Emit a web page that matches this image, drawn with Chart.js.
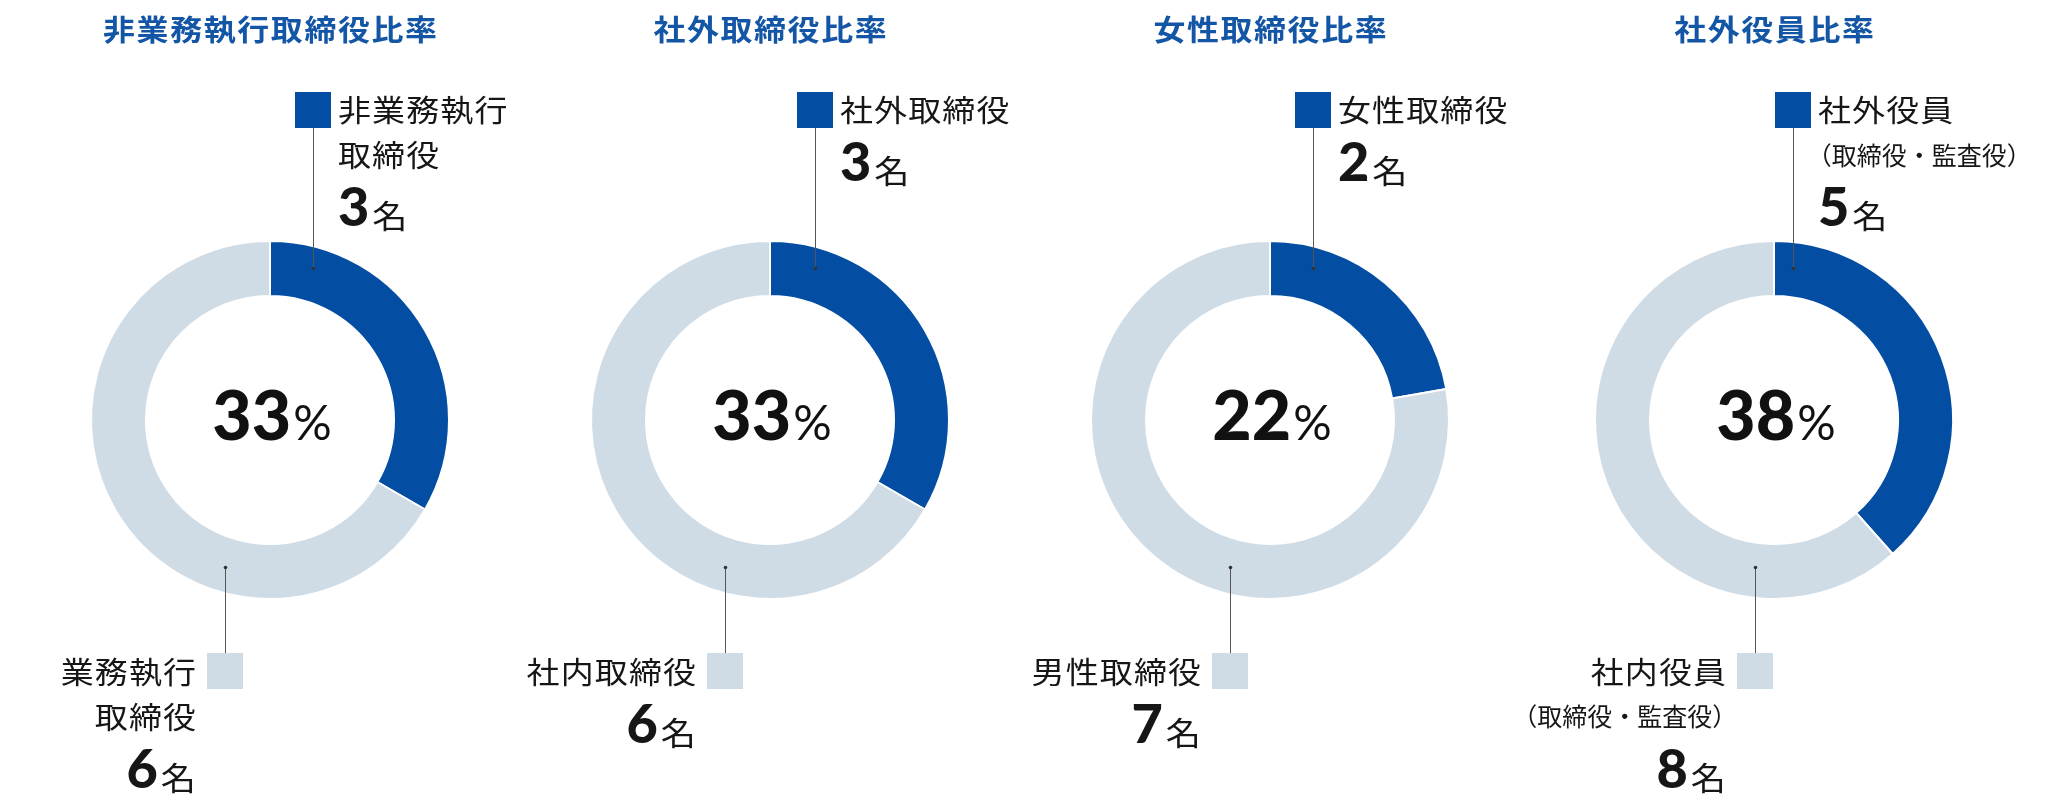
<!DOCTYPE html>
<html lang="ja">
<head>
<meta charset="utf-8">
<title>取締役会の構成</title>
<script src="https://cdn.jsdelivr.net/npm/chart.js@4.4.1/dist/chart.umd.min.js"></script>
<style>
	html, body { margin: 0; padding: 0; background: #fff; }
	#wrap { position: relative; width: 2048px; height: 809px; overflow: hidden; }
	#wrap canvas { position: absolute; top: 0; }
</style>
</head>
<body>
<div id="wrap">
	<canvas id="chart0" width="500" height="809" style="left:20px"></canvas>
	<canvas id="chart1" width="500" height="809" style="left:520px"></canvas>
	<canvas id="chart2" width="500" height="809" style="left:1020px"></canvas>
	<canvas id="chart3" width="500" height="809" style="left:1524px"></canvas>
</div>
<script>
// values
const titles = ['非業務執行取締役比率', '社外取締役比率', '女性取締役比率', '社外役員比率'];
const highlightLabels = [['非業務執行', '取締役'], ['社外取締役'], ['女性取締役'], ['社外役員', '（取締役・監査役）']];
const otherLabels = [['業務執行', '取締役'], ['社内取締役'], ['男性取締役'], ['社内役員', '（取締役・監査役）']];
const highlightCounts = [3, 3, 2, 5];
const otherCounts = [6, 6, 7, 8];
const unit = '名';

// where the little key squares sit, relative to the ring centre
const topKeyShift = [25, 27, 25, 1];
const bottomKeyShift = [-63, -63, -58, -37];

const BLUE = '#034ea2';
const LIGHT = '#cfdce6';
const TITLE_BLUE = '#1456a6';
const INK = '#161616';
const CJK = '"Noto Sans CJK JP", "Noto Sans CJK SC", sans-serif';

// the source artwork has its japanese text a little wide, so allow a horizontal scale
const drawText = (ctx, text, x, y, font, color, spacing, align, baseline, sx) => {
	sx = sx || 1;
	ctx.save();
	ctx.font = font;
	ctx.letterSpacing = spacing + 'px';
	const w = (ctx.measureText(text).width - spacing) * sx;
	let left = x;
	if (align === 'right') left = x - w;
	else if (align === 'center') left = x - w / 2;
	ctx.fillStyle = color;
	ctx.textAlign = 'left';
	ctx.textBaseline = baseline || 'middle';
	ctx.translate(left, y);
	ctx.scale(sx, 1);
	ctx.fillText(text, 0, 0);
	ctx.restore();
	return w;
};

const DIGIT_FONT = '900 54px Lato';
const UNIT_FONT = '400 32px ' + CJK;

const drawCount = (ctx, n, x, baseline, align) => {
	ctx.letterSpacing = '0px';
	ctx.font = DIGIT_FONT;
	const wd = ctx.measureText(String(n)).width;
	ctx.font = UNIT_FONT;
	const wn = ctx.measureText(unit).width * 1.1;
	const total = wd + 3 + wn;
	const left = align === 'right' ? x - total : x;
	drawText(ctx, String(n), left, baseline, DIGIT_FONT, INK, 0, 'left', 'alphabetic');
	drawText(ctx, unit, left + wd + 3, baseline + 2, UNIT_FONT, INK, 0, 'left', 'alphabetic', 1.1);
};

const drawLines = (ctx, lines, x, firstY, align) => {
	let y = firstY;
	lines.forEach((line, k) => {
		if (k > 0) y += 45;
		if (line.startsWith('（')) {
			// full width brackets leave half an em empty at each end
			const size = 25;
			const nx = align === 'right' ? x + size * 0.45 : x - size * 0.45;
			drawText(ctx, line, nx, y, '400 ' + size + 'px ' + CJK, INK, 0, align);
		} else {
			drawText(ctx, line, x, y, '400 30px ' + CJK, INK, 1, align, 'middle', 1.1);
		}
	});
	return y;
};

const annotations = {
	id: 'annotations',
	afterDraw(chart, args, opts) {
		const i = opts.index;
		const ctx = chart.ctx;
		const arc = chart.getDatasetMeta(0).data[0];
		const cx = arc.x, cy = arc.y;
		const mid = (arc.outerRadius + arc.innerRadius) / 2;
		const ds = chart.data.datasets[0];
		const colors = ds.backgroundColor;
		const sq = 36;

		ctx.save();

		// title
		drawText(ctx, titles[i], cx, 30, '700 29px ' + CJK, TITLE_BLUE, 1.5, 'center', 'middle', 1.1);

		// centre percentage
		const pct = String(Math.round((ds.data[0] / (ds.data[0] + ds.data[1])) * 100));
		ctx.letterSpacing = '0px';
		ctx.font = '900 68px Lato';
		const wp = ctx.measureText(pct).width;
		ctx.font = '400 48px Lato';
		const wpc = ctx.measureText('%').width;
		const px = cx + 2 - (wp + 2 + wpc) / 2;
		drawText(ctx, pct, px, 440, '900 68px Lato', '#111', 0, 'left', 'alphabetic');
		drawText(ctx, '%', px + wp + 2, 440, '400 48px Lato', '#111', 0, 'left', 'alphabetic');

		// upper key (highlighted slice)
		const tx = Math.round(cx + topKeyShift[i]);
		ctx.fillStyle = colors[0];
		ctx.fillRect(tx, 92, sq, sq);
		const tlx = tx + sq / 2 + 0.5;
		ctx.strokeStyle = '#555';
		ctx.lineWidth = 1;
		ctx.beginPath();
		ctx.moveTo(tlx, 92 + sq);
		ctx.lineTo(tlx, cy - mid);
		ctx.stroke();
		ctx.fillStyle = '#333';
		ctx.beginPath();
		ctx.arc(tlx, cy - mid, 1.8, 0, Math.PI * 2);
		ctx.fill();
		const lastTop = drawLines(ctx, highlightLabels[i], tx + sq + 7, 110, 'left');
		drawCount(ctx, ds.data[0], tx + sq + 7, lastTop + 71, 'left');

		// lower key (the rest)
		const bx = Math.round(cx + bottomKeyShift[i]);
		ctx.fillStyle = colors[1];
		ctx.fillRect(bx, 653, sq, sq);
		const blx = bx + sq / 2 + 0.5;
		ctx.strokeStyle = '#555';
		ctx.beginPath();
		ctx.moveTo(blx, cy + mid - 4);
		ctx.lineTo(blx, 653);
		ctx.stroke();
		ctx.fillStyle = '#333';
		ctx.beginPath();
		ctx.arc(blx, cy + mid - 4, 1.8, 0, Math.PI * 2);
		ctx.fill();
		const lastBottom = drawLines(ctx, otherLabels[i], bx - 11, 671.5, 'right');
		drawCount(ctx, ds.data[1], bx - 11, lastBottom + 71, 'right');

		ctx.restore();
	}
};

let charts = [];

titles.forEach((title, i) => {
	charts.push(
		new Chart(document.getElementById('chart' + i), {
			type: 'doughnut',
			data: {
				labels: [highlightLabels[i].join(''), otherLabels[i].join('')],
				datasets: [
					{
						label: title,
						data: [highlightCounts[i], otherCounts[i]],
						backgroundColor: [BLUE, LIGHT],
						borderColor: '#fff',
						borderWidth: 2
					}
				]
			},
			options: {
				responsive: false,
				animation: false,
				events: [],
				radius: 179,
				cutout: 124,
				layout: {
					padding: { top: 240, bottom: 209, left: 70, right: 70 }
				},
				plugins: {
					legend: { display: false },
					tooltip: { enabled: false },
					title: { display: false },
					annotations: { index: i }
				}
			},
			plugins: [annotations]
		})
	);
});
</script>
</body>
</html>
